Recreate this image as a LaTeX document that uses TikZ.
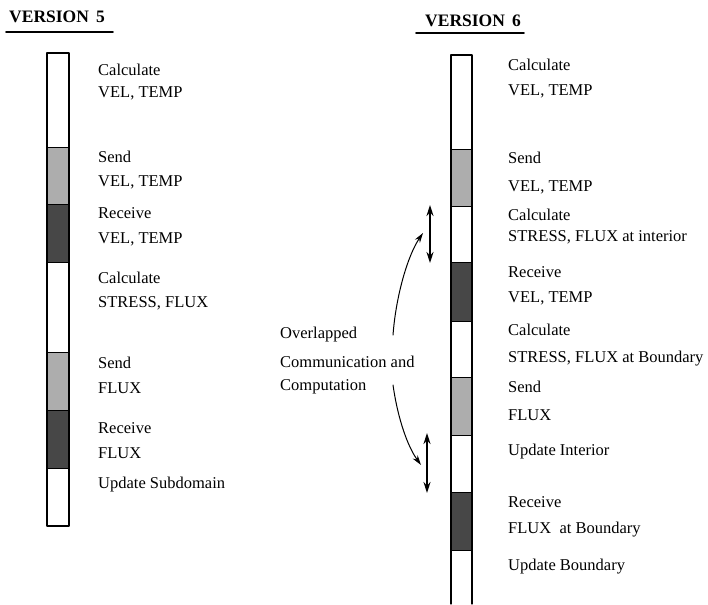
\documentclass[tikz,border=0pt]{standalone}
\usepackage{fontspec}
\setmainfont{Liberation Serif}
\usetikzlibrary{arrows.meta}

\colorlet{sendgray}{black!32}
\colorlet{recvgray}{black!72}

\begin{document}
\begin{tikzpicture}[x=1pt, y=-1pt, line cap=round, line join=round,
  lbl/.style={anchor=west, inner sep=0pt, font=\fontsize{16.5}{19}\selectfont},
  head/.style={anchor=base west, inner sep=0pt, font=\fontsize{17.5}{20}\selectfont\bfseries},
  dbl/.style={{Stealth[length=11pt,width=7pt]}-{Stealth[length=11pt,width=7pt]}, line width=1.6pt},
  pointer/.style={-{Stealth[length=10pt,width=6pt]}, line width=1pt}]

\useasboundingbox (0,0) rectangle (708,604);

% Headings
\node[head] (v5) at (9,23) {VERSION\, 5};
\draw[line width=1.6pt] (6,32) -- (113,32);
\node[head] (v6) at (425,27) {VERSION\, 6};
\draw[line width=1.6pt] (416,33) -- (524,33);

% Version 5 bar
\foreach \ya/\yb/\c in {53/147/white, 147/204/sendgray, 204/262/recvgray,
  262/352/white, 352/410/sendgray, 410/468/recvgray, 468/526/white}
  \fill[\c] (47,\ya) rectangle (69,\yb);
\foreach \y in {147,204,262,352,410,468}
  \draw[thick] (47,\y) -- (69,\y);
\draw[line width=1.2pt] (47,53) rectangle (69,526);

% Version 6 bar
\foreach \ya/\yb/\c in {55/149/white, 149/206/sendgray, 206/262/white,
  262/321/recvgray, 321/377/white, 377/435/sendgray, 435/492/white,
  492/550/recvgray, 550/604/white}
  \fill[\c] (451,\ya) rectangle (472,\yb);
\foreach \y in {149,206,262,321,377,435,492,550}
  \draw[thick] (451,\y) -- (472,\y);
\draw[line width=1.2pt] (451,604) -- (451,55) -- (472,55) -- (472,604);

% Version 5 labels
\node[lbl] (a1) at (98,70) {Calculate};
\node[lbl] (a2) at (98,93) {VEL, TEMP};
\node[lbl] (a3) at (98,157) {Send};
\node[lbl] (a4) at (98,182) {VEL, TEMP};
\node[lbl] (a5) at (98,213) {Receive};
\node[lbl] (a6) at (98,239) {VEL, TEMP};
\node[lbl] (a7) at (98,278) {Calculate};
\node[lbl] (a8) at (98,303) {STRESS, FLUX};
\node[lbl] (a9) at (98,363) {Send};
\node[lbl] (a10) at (98,388) {FLUX};
\node[lbl] (a11) at (98,428) {Receive};
\node[lbl] (a12) at (98,453) {FLUX};
\node[lbl] (a13) at (98,485) {Update Subdomain};

% Version 6 labels
\node[lbl] (b1) at (508,65) {Calculate};
\node[lbl] (b2) at (508,91) {VEL, TEMP};
\node[lbl] (b3) at (508,158) {Send};
\node[lbl] (b4) at (508,187) {VEL, TEMP};
\node[lbl] (b5) at (508,215) {Calculate};
\node[lbl] (b6) at (508,237) {STRESS, FLUX at interior};
\node[lbl] (b7) at (508,272) {Receive};
\node[lbl] (b8) at (508,298) {VEL, TEMP};
\node[lbl] (b9) at (508,330) {Calculate};
\node[lbl] (b10) at (508,359) {STRESS, FLUX at Boundary};
\node[lbl] (b11) at (508,387) {Send};
\node[lbl] (b12) at (508,415) {FLUX};
\node[lbl] (b13) at (508,452) {Update Interior};
\node[lbl] (b14) at (508,502) {Receive};
\node[lbl] (b15) at (508,530) {FLUX\ \ at Boundary};
\node[lbl] (b16) at (508,567) {Update Boundary};

% Overlap note
\node[lbl] (c1) at (280,335) {Overlapped};
\node[lbl] (c2) at (280,362) {Communication and};
\node[lbl] (c3) at (280,387) {Computation};

% Overlap spans
\coordinate (u1) at (430,205);
\coordinate (u2) at (430,263);
\coordinate (l1) at (427,433);
\coordinate (l2) at (427,493);
\draw[dbl] (u1) -- (u2);
\draw[dbl] (l1) -- (l2);

% Curved pointers
\coordinate (s1) at (393,335);
\coordinate (e1) at (423,233);
\coordinate (s2) at (393,385);
\coordinate (e2) at (421,465);
\draw[pointer] (s1) .. controls (396,295) and (408,255) .. (e1);
\draw[pointer] (s2) .. controls (398,420) and (408,447) .. (e2);

\end{tikzpicture}
\end{document}
